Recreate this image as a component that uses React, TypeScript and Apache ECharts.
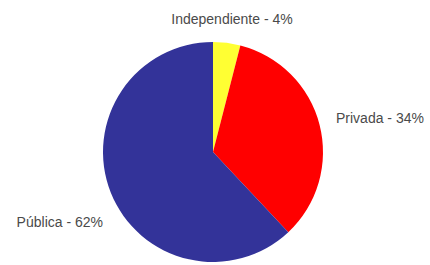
import React, { useEffect, useRef } from "react";
import * as echarts from "echarts";

const categories = ["Independiente", "Privada", "Pública"];
const values = [4, 34, 62];
const colors = ["#FFFF33", "#FF0000", "#333399"];

const labelPos = [
  { x: 232, y: 19, align: "center" },
  { x: 336, y: 118, align: "left" },
  { x: 103, y: 222, align: "right" },
];

export default function App() {
  const ref = useRef<HTMLDivElement>(null);
  useEffect(() => {
    if (!ref.current) return;
    const chart = echarts.init(ref.current, undefined, { renderer: "svg" });
    chart.setOption({
      animation: false,
      backgroundColor: "#ffffff",
      series: [
        {
          type: "pie",
          center: [213, 152],
          radius: 110,
          startAngle: 90,
          clockwise: true,
          data: categories.map((name, i) => ({
            name,
            value: values[i],
            itemStyle: { color: colors[i] },
          })),
          label: {
            show: true,
            position: "outside",
            formatter: "{b} - {d}%",
            fontFamily: "Liberation Sans, Arial, sans-serif",
            fontSize: 14,
            color: "#4a4a4a",
            overflow: "none",
          },
          labelLine: { show: false },
          labelLayout: (params: any) => {
            const p = labelPos[params.dataIndex];
            return { x: p.x, y: p.y, align: p.align, verticalAlign: "middle" };
          },
          emphasis: { disabled: true },
        },
      ],
    });
    return () => chart.dispose();
  }, []);
  return (
    <div
      ref={ref}
      style={{ position: "absolute", left: 0, top: 0, width: 430, height: 265 }}
    />
  );
}
